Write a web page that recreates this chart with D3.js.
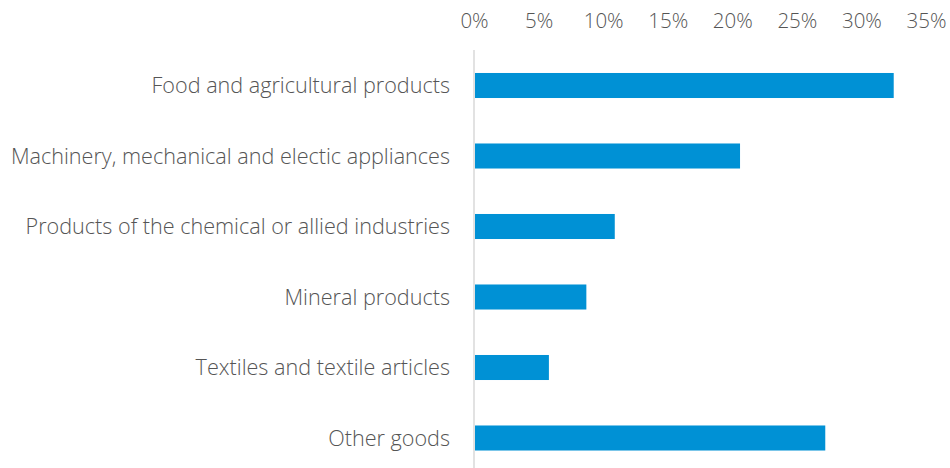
<!DOCTYPE html>
<html>
<head>
<meta charset="utf-8">
<script src="https://cdn.jsdelivr.net/npm/d3@7"></script>
<style>
  html, body { margin: 0; padding: 0; background: #fff; }
  svg { display: block; }
  text { font-family: "Open Sans", "Noto Sans", sans-serif; font-weight: 300; fill: #555; }
</style>
</head>
<body>
<svg id="chart" width="950" height="468"></svg>
<script>
// Share of goods by product group
const categories = [
  "Food and agricultural products",
  "Machinery, mechanical and electic appliances",
  "Products of the chemical or allied industries",
  "Mineral products",
  "Textiles and textile articles",
  "Other goods"
];
const shares = [32.5, 20.6, 10.9, 8.7, 5.8, 27.2];
const tickValues = [0, 5, 10, 15, 20, 25, 30, 35];

const svg = d3.select("#chart");

const x = d3.scaleLinear().domain([0, 35]).range([474, 926]);
const y = d3.scaleBand().domain(categories).range([50.25, 473.25]).paddingInner(0.645).paddingOuter(0.3225);

// top value axis
const xAxis = d3.axisTop(x).tickValues(tickValues).tickFormat(d => d + "%").tickSize(0).tickPadding(0);
const gx = svg.append("g").attr("transform", "translate(0,28)").call(xAxis);
gx.select(".domain").remove();
gx.selectAll("text").style("font-size", "20.5px").attr("dy", 0);

// category axis line
svg.append("line")
  .attr("x1", x(0)).attr("x2", x(0))
  .attr("y1", 50).attr("y2", 468)
  .attr("stroke", "#d9d9d9").attr("stroke-width", 1.5);

// bars
svg.append("g").selectAll("rect")
  .data(categories)
  .join("rect")
  .attr("x", x(0) + 1)
  .attr("y", d => y(d))
  .attr("width", (d, i) => x(shares[i]) - x(0) - 1)
  .attr("height", y.bandwidth())
  .attr("fill", "#0091d5");

// category labels
svg.append("g").selectAll("text")
  .data(categories)
  .join("text")
  .attr("x", 450)
  .attr("y", d => y(d) + y.bandwidth() / 2)
  .attr("dy", "0.35em")
  .attr("text-anchor", "end")
  .style("font-size", "21.6px")
  .text(d => d);
</script>
</body>
</html>
